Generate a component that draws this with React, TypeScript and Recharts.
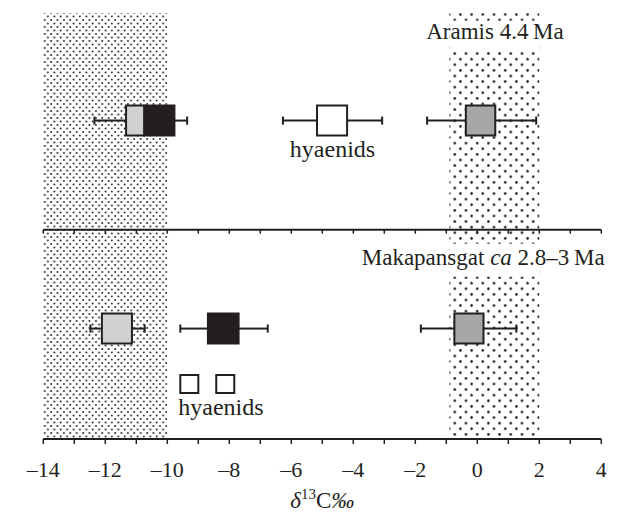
import React from "react";
import {
  ComposedChart,
  ReferenceArea,
  ReferenceLine,
  Scatter,
  XAxis,
  YAxis,
} from "recharts";

const FONT = '"Liberation Serif", "Times New Roman", Times, serif';
const INK = "#231f20";

// x axis ticks (every permil, labels on even values)
const X_TICKS = [-14, -13, -12, -11, -10, -9, -8, -7, -6, -5, -4, -3, -2, -1, 0, 1, 2, 3, 4];

// shaded reference zones (δ13C ‰)
const ZONES = [
  { id: "c3", from: -14, to: -10 },
  { id: "c4", from: -0.9, to: 2 },
];

// vertical levels on a 0–100 scale
const ROW_ARAMIS = 74.4;
const ROW_MAKAPANSGAT = 25.8;
const DIVIDER = 48.9;

// box plots: whisker low, box low, box high, whisker high
const aramisBoxes = [
  { kind: "light", lo: -12.35, q1: -11.33, q3: -10.74, hi: null },
  { kind: "dark", lo: null, q1: -10.74, q3: -9.77, hi: -9.36 },
  { kind: "hyaenid", lo: -6.27, q1: -5.17, q3: -4.2, hi: -3.07 },
  { kind: "mid", lo: -1.62, q1: -0.37, q3: 0.58, hi: 1.9 },
];

const makapansgatBoxes = [
  { kind: "light", lo: -12.48, q1: -12.11, q3: -11.14, hi: -10.73 },
  { kind: "dark", lo: -9.58, q1: -8.69, q3: -7.7, hi: -6.76 },
  { kind: "mid", lo: -1.82, q1: -0.74, q3: 0.2, hi: 1.26 },
];

// individual hyaenid values at Makapansgat
const makapansgatHyaenids = [
  { x: -9.29, y: 12.85 },
  { x: -8.13, y: 12.85 },
];

// text annotations
const siteLabels = [
  { x: 0.57, y: 93.4, site: "aramis" },
  { x: 0.19, y: 40.7, site: "makapansgat" },
];
const hyaenidLabels = [
  { x: -4.67, y: 66.0 },
  { x: -8.27, y: 5.6 },
];

const FILLS: Record<string, string> = {
  light: "#d1d1d1",
  dark: "#231f20",
  hyaenid: "#ffffff",
  mid: "#a7a7a9",
};

const BOX_HALF = 3.5;
const CAP_HALF = 0.95;

const fmtTick = (v: number) => {
  if (v % 2 !== 0) return "";
  return v < 0 ? "\u2013" + Math.abs(v) : String(v);
};

function boxMarks(boxes: typeof aramisBoxes, row: number, prefix: string) {
  const out: React.ReactElement[] = [];
  boxes.forEach((b, i) => {
    const k = `${prefix}-${i}`;
    if (b.lo !== null) {
      out.push(
        <ReferenceLine key={k + "wl"} segment={[{ x: b.lo, y: row }, { x: b.q1, y: row }]} stroke={INK} strokeWidth={2} />,
        <ReferenceLine key={k + "cl"} segment={[{ x: b.lo, y: row - CAP_HALF }, { x: b.lo, y: row + CAP_HALF }]} stroke={INK} strokeWidth={2} />
      );
    }
    if (b.hi !== null) {
      out.push(
        <ReferenceLine key={k + "wh"} segment={[{ x: b.q3, y: row }, { x: b.hi, y: row }]} stroke={INK} strokeWidth={2} />,
        <ReferenceLine key={k + "ch"} segment={[{ x: b.hi, y: row - CAP_HALF }, { x: b.hi, y: row + CAP_HALF }]} stroke={INK} strokeWidth={2} />
      );
    }
    out.push(
      <ReferenceArea
        key={k + "box"}
        x1={b.q1}
        x2={b.q3}
        y1={row - BOX_HALF}
        y2={row + BOX_HALF}
        fill={FILLS[b.kind]}
        fillOpacity={1}
        stroke={INK}
        strokeWidth={2}
      />
    );
  });
  return out;
}

const AxisTitle = (props: any) => {
  const vb = props.viewBox || {};
  const cx = (vb.x ?? 0) + (vb.width ?? 0) / 2;
  const y = (vb.y ?? 0) + 69;
  return (
    <text x={cx} y={y} textAnchor="middle" fontFamily={FONT} fontSize={23} fill={INK}>
      <tspan fontStyle="italic">δ</tspan>
      <tspan fontSize={15} dy={-9}>13</tspan>
      <tspan dy={9}>C</tspan>
      <tspan fontStyle="italic">‰</tspan>
    </text>
  );
};

const SiteLabel = (props: any) => {
  const { cx, cy, payload } = props;
  return (
    <text x={cx} y={cy} textAnchor="middle" fontFamily={FONT} fontSize={23} fill={INK}>
      {payload.site === "aramis" ? (
        "Aramis 4.4\u2009Ma"
      ) : (
        <>
          <tspan>{"Makapansgat "}</tspan>
          <tspan fontStyle="italic">ca</tspan>
          <tspan>{" 2.8\u20133\u2009Ma"}</tspan>
        </>
      )}
    </text>
  );
};

const HyaenidLabel = (props: any) => (
  <text x={props.cx} y={props.cy} textAnchor="middle" fontFamily={FONT} fontSize={24} fill={INK}>
    hyaenids
  </text>
);

const OpenSquare = (props: any) => (
  <rect x={props.cx - 9} y={props.cy - 9} width={18} height={18} fill="#fff" stroke={INK} strokeWidth={2} />
);

const DividerTick = (props: any) => (
  <line x1={props.cx} x2={props.cx} y1={props.cy} y2={props.cy + 4} stroke={INK} strokeWidth={1.5} />
);

export default function App() {
  const dividerTicks = X_TICKS.map((x) => ({ x, y: DIVIDER }));
  return (
    <ComposedChart width={606} height={506} margin={{ top: 3, right: 12.7, bottom: 0, left: 35.3 }}>
      <defs>
        <pattern id="dotsFine" patternUnits="userSpaceOnUse" width={6.4} height={7}>
          <circle cx={1.5} cy={1.5} r={0.95} fill="#222" />
          <circle cx={4.7} cy={5} r={0.95} fill="#222" />
        </pattern>
        <pattern id="dotsCoarse" patternUnits="userSpaceOnUse" x={451} y={5} width={11.2} height={11.2}>
          <circle cx={1.4} cy={1.4} r={1.3} fill="#222" />
          <circle cx={7} cy={7} r={1.3} fill="#222" />
        </pattern>
      </defs>
      <XAxis
        type="number"
        dataKey="x"
        domain={[-14, 4]}
        ticks={X_TICKS}
        interval={0}
        tickFormatter={fmtTick}
        tickSize={5}
        tickMargin={17}
        height={75}
        axisLine={{ stroke: INK, strokeWidth: 2 }}
        tickLine={{ stroke: INK, strokeWidth: 1.5 }}
        tick={{ fontSize: 22, fontFamily: FONT, fill: INK }}
        label={<AxisTitle />}
      />
      <YAxis
        type="number"
        dataKey="y"
        domain={[0, 100]}
        width={0}
        tick={false}
        tickLine={false}
        axisLine={{ stroke: INK, strokeWidth: 2 }}
      />
      {ZONES.map((z) => (
        <ReferenceArea
          key={z.id}
          x1={z.from}
          x2={z.to}
          y1={0}
          y2={99.5}
          fill={z.id === "c3" ? "url(#dotsFine)" : "url(#dotsCoarse)"}
          fillOpacity={1}
          stroke="none"
        />
      ))}
      <ReferenceArea x1={-0.9} x2={2} y1={90.9} y2={97.7} fill="#fff" fillOpacity={1} stroke="none" />
      <ReferenceArea x1={-0.9} x2={2} y1={37.9} y2={45.6} fill="#fff" fillOpacity={1} stroke="none" />
      <ReferenceLine y={DIVIDER} stroke={INK} strokeWidth={2} />
      {boxMarks(aramisBoxes, ROW_ARAMIS, "a")}
      {boxMarks(makapansgatBoxes, ROW_MAKAPANSGAT, "m")}
      <Scatter data={dividerTicks} shape={DividerTick} isAnimationActive={false} />
      <Scatter data={makapansgatHyaenids} shape={OpenSquare} isAnimationActive={false} />
      <Scatter data={siteLabels} shape={SiteLabel} isAnimationActive={false} />
      <Scatter data={hyaenidLabels} shape={HyaenidLabel} isAnimationActive={false} />
    </ComposedChart>
  );
}
